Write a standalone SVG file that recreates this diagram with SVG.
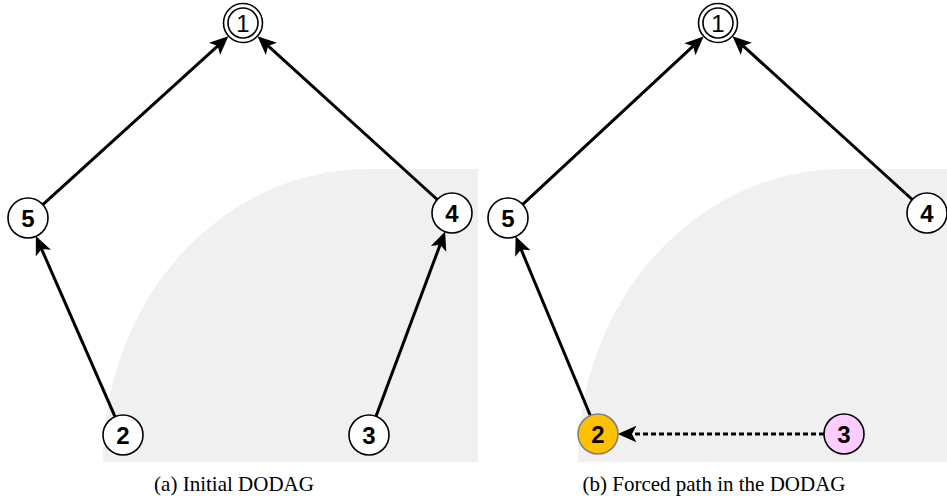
<svg xmlns="http://www.w3.org/2000/svg" width="947" height="496" viewBox="0 0 947 496">
<style>
.bg{fill:#f0f0f0;stroke:none}
.node circle{fill:#ffffff;stroke:#000000;stroke-width:1.6}
.node text{font-family:"Liberation Sans",Arial,sans-serif;font-size:24px;font-weight:bold;text-anchor:middle;fill:#000}
.edge{stroke:#000;stroke-width:3;fill:none;marker-end:url(#arr)}
.dash{stroke-dasharray:5 3}
.cap{font-family:"Liberation Serif","Times New Roman",serif;font-size:21px;text-anchor:middle;fill:#000}
</style>
<defs>
<marker id="arr" markerUnits="userSpaceOnUse" markerWidth="22" markerHeight="22" viewBox="-1 -9 20 18" refX="4" refY="0" orient="auto">
<path d="M17,0 L0,-7.5 L4,0 L0,7.5 Z" fill="#000"/>
</marker>
</defs>
<rect width="947" height="496" fill="#ffffff"/>
<path class="bg" d="M103,462 A265,293 0 0 1 368,169 L478,169 L478,462 Z"/>
<path class="bg" d="M578,462 A265,293 0 0 1 843,169 L947,169 L947,462 Z"/>
<g id="connectors">
<line class="edge" x1="42.8" y1="204.6" x2="217.8" y2="45.9"/>
<line class="edge" x1="437.2" y1="199.5" x2="268.1" y2="45.9"/>
<line class="edge" x1="115" y1="416.7" x2="41.6" y2="249.1"/>
<line class="edge" x1="376" y1="416.3" x2="440.1" y2="244.8"/>
<line class="edge" x1="522.7" y1="204.4" x2="693.1" y2="46.2"/>
<line class="edge" x1="912.2" y1="199.5" x2="743.1" y2="45.9"/>
<line class="edge" x1="590.3" y1="415.5" x2="521.1" y2="249.4"/>
<line class="edge dash" x1="824" y1="434" x2="632" y2="434"/>
</g>
<g id="a1" class="node"><circle cx="243" cy="23" r="19.5"/><circle cx="243" cy="23" r="15"/><text x="243" y="31.5" style="font-weight:normal">1</text></g>
<g id="a5" class="node"><circle cx="28" cy="218" r="20"/><text x="28" y="226.5">5</text></g>
<g id="a4" class="node"><circle cx="452" cy="213" r="20"/><text x="452" y="221.5">4</text></g>
<g id="a2" class="node"><circle cx="123" cy="435" r="20"/><text x="123" y="443.5">2</text></g>
<g id="a3" class="node"><circle cx="369" cy="435" r="20"/><text x="369" y="443.5">3</text></g>
<g id="b1" class="node"><circle cx="718" cy="23" r="19.5"/><circle cx="718" cy="23" r="15"/><text x="718" y="31.5" style="font-weight:normal">1</text></g>
<g id="b5" class="node"><circle cx="508" cy="218" r="20"/><text x="508" y="226.5">5</text></g>
<g id="b4" class="node"><circle cx="927" cy="213" r="20"/><text x="927" y="221.5">4</text></g>
<g id="b2" class="node"><circle cx="598" cy="434" r="20" style="fill:#ffc000;stroke:#808080"/><text x="598" y="442.5">2</text></g>
<g id="b3" class="node"><circle cx="844" cy="434" r="20" style="fill:#ffccff"/><text x="844" y="442.5">3</text></g>
<text class="cap" x="234" y="491">(a) Initial DODAG</text>
<text class="cap" x="714" y="491">(b) Forced path in the DODAG</text>
</svg>
